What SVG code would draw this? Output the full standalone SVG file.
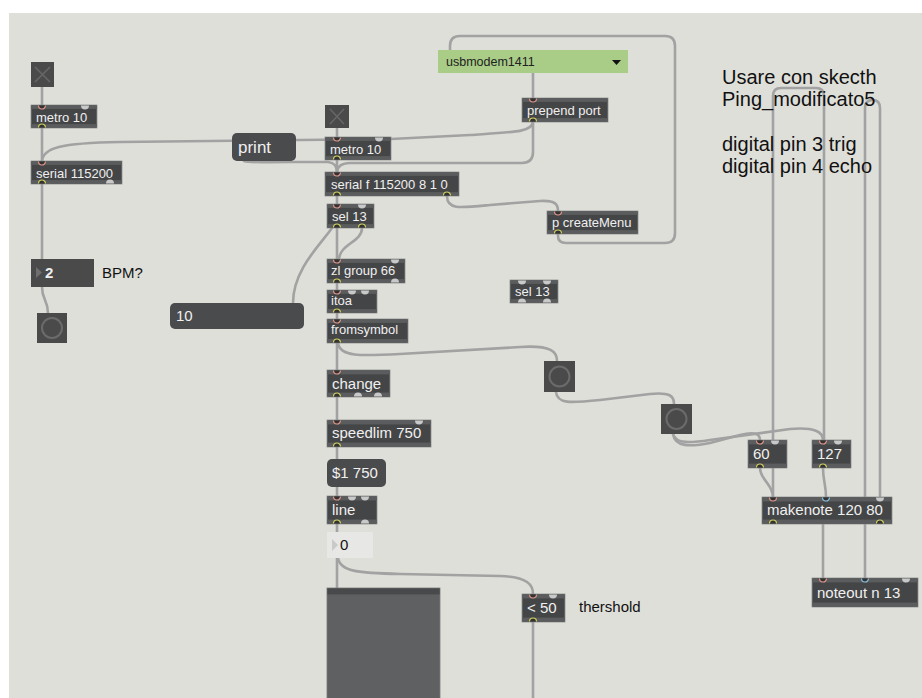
<svg xmlns="http://www.w3.org/2000/svg" width="922" height="698" viewBox="0 0 922 698">
<style>
.bg{fill:#dedfd9}
.ob{fill:#444546;stroke:#8e8f90;stroke-width:0.8}
.bd{fill:#5b5c5d}
.t{font-family:"Liberation Sans",Arial,sans-serif;font-size:13px;fill:#f0f0f0}
.tb{font-family:"Liberation Sans",Arial,sans-serif;font-size:15px;fill:#f0f0f0}
.cm{font-family:"Liberation Sans",Arial,sans-serif;font-size:15px;fill:#111}
.msg{fill:#4a4b4d}
.inr{fill:#333;stroke:#e0968a;stroke-width:1.2}
.inb{fill:#333;stroke:#86c0e0;stroke-width:1.2}
.inl{fill:#c9c9c9}
.out{fill:#333;stroke:#cfcf62;stroke-width:1.2}
.c{fill:none;stroke:#a2a2a2;stroke-width:2.6;stroke-linecap:round}
.ui{fill:#4a4a4a}
.x{stroke:#666;stroke-width:1.6}
.bt{fill:none;stroke:#6b6b6b;stroke-width:2}
</style>
<rect x="0" y="0" width="922" height="698" fill="#ffffff"/>
<rect class="bg" x="9" y="13" width="913" height="685"/>

<g id="connectors">
<path class="c" d="M42,87V105"/>
<path class="c" d="M42,128V161"/>
<path class="c" d="M533,122C532,132 515,132 470,135L391,139L120,142C60,143 43,148 42,161"/>
<path class="c" d="M533,122V152Q533,163 522,163L350,163Q338,163 337,172"/>
<path class="c" d="M337,128V137"/>
<path class="c" d="M337,160V172"/>
<path class="c" d="M244,161C250,163 260,162 290,162L328,162Q337,163 337,172"/>
<path class="c" d="M337,196V204"/>
<path class="c" d="M447,196C447,210 460,208 490,205L540,201C556,200 558,205 558,211"/>
<path class="c" d="M558,234V236Q558,243 566,243L665,243Q675,243 675,233L675,46Q675,36 665,36L460,36Q450,36 450,46V50"/>
<path class="c" d="M533,73V98"/>
<path class="c" d="M337,228V259"/>
<path class="c" d="M362,228C362,242 340,244 339,259"/>
<path class="c" d="M332,228C320,245 293,270 293,303"/>
<path class="c" d="M337,283V290"/>
<path class="c" d="M337,313V319"/>
<path class="c" d="M337,343V370"/>
<path class="c" d="M338,343C340,357 360,356 400,354L520,347C552,345 557,352 557,361"/>
<path class="c" d="M556,392C557,404 570,403 600,400L650,394C670,392 674,396 674,404"/>
<path class="c" d="M337,397V420"/>
<path class="c" d="M337,447V459"/>
<path class="c" d="M337,487V496"/>
<path class="c" d="M337,524V532"/>
<path class="c" d="M337,558V588"/>
<path class="c" d="M338,558C340,572 360,573 400,574L500,576C528,577 533,585 533,594"/>
<path class="c" d="M533,622V698"/>
<path class="c" d="M42,184V259"/>
<path class="c" d="M42,287C42,300 48,300 48,313"/>
<path class="c" d="M673,434C675,447 690,447 710,443L740,435C755,431 760,434 760,440"/>
<path class="c" d="M673,434C676,444 690,443 710,440L790,429C815,427 823,432 823,440"/>
<path class="c" d="M760,468C760,480 773,484 773,497"/>
<path class="c" d="M823,468C823,480 826,485 826,497"/>
<path class="c" d="M773,497V96Q773,88 781,88L816,88Q824,88 824,96V440"/>
<path class="c" d="M865,578V108Q865,100 872.5,100Q880,100 880,108V497"/>
<path class="c" d="M823,524V578"/>
</g>

<g id="toggle1"><rect class="ui" x="31" y="62" width="23" height="25"/><path class="x" d="M35,67L50,82M50,67L35,82"/></g>

<g id="metro1"><rect class="ob" x="31" y="105" width="66" height="23"/><rect class="bd" x="31.4" y="105.4" width="65.2" height="3.5"/><rect class="bd" x="31.4" y="124.1" width="65.2" height="3.5"/>
<path class="inr" d="M38.5,105.5A3.5,3.5 0 0 0 45.5,105.5"/><path class="inl" d="M81,105.5A4,4 0 0 0 89,105.5Z"/><path class="out" d="M38.5,127.5A3.5,3.5 0 0 1 45.5,127.5"/>
<text class="t" x="36" y="121.5">metro 10</text></g>

<g id="serial1"><rect class="ob" x="31" y="161" width="91" height="23"/><rect class="bd" x="31.4" y="161.4" width="90.2" height="3.5"/><rect class="bd" x="31.4" y="180.1" width="90.2" height="3.5"/>
<path class="inr" d="M38.5,161.5A3.5,3.5 0 0 0 45.5,161.5"/><path class="out" d="M38.5,183.5A3.5,3.5 0 0 1 45.5,183.5"/><path class="inl" d="M106,183.5A4,4 0 0 1 114,183.5Z"/>
<text class="t" x="36" y="177.5">serial 115200</text></g>

<g id="print"><rect class="msg" x="232" y="133" width="64" height="28" rx="5"/><text class="t" x="238" y="153" style="font-size:17px">print</text></g>

<g id="numbox2"><rect class="ui" x="31" y="259" width="63" height="28"/><path d="M36,267L42,272.5L36,278Z" fill="#6e6e6e"/><text class="tb" x="45" y="278" style="font-weight:bold">2</text></g>
<text class="cm" x="102" y="278">BPM?</text>

<g id="button0"><rect class="ui" x="37" y="313" width="30" height="30"/><circle class="bt" cx="52" cy="328" r="10"/></g>

<g id="msg10"><rect class="msg" x="170" y="303" width="134" height="26" rx="5"/><text class="tb" x="176" y="321">10</text></g>

<g id="toggle2"><rect class="ui" x="325" y="105" width="24" height="23"/><path class="x" d="M330,109L344,124M344,109L330,124"/></g>

<g id="metro2"><rect class="ob" x="325" y="137" width="66" height="23"/><rect class="bd" x="325.4" y="137.4" width="65.2" height="3.5"/><rect class="bd" x="325.4" y="156.1" width="65.2" height="3.5"/>
<path class="inr" d="M333.5,137.5A3.5,3.5 0 0 0 340.5,137.5"/><path class="inl" d="M375,137.5A4,4 0 0 0 383,137.5Z"/><path class="out" d="M333.5,159.5A3.5,3.5 0 0 1 340.5,159.5"/>
<text class="t" x="330" y="153.5">metro 10</text></g>

<g id="serialf"><rect class="ob" x="325" y="172" width="134" height="24"/><rect class="bd" x="325.4" y="172.4" width="133.2" height="3.5"/><rect class="bd" x="325.4" y="192.1" width="133.2" height="3.5"/>
<path class="inr" d="M333.5,172.5A3.5,3.5 0 0 0 340.5,172.5"/><path class="out" d="M333.5,195.5A3.5,3.5 0 0 1 340.5,195.5"/><path class="out" d="M443.5,195.5A3.5,3.5 0 0 1 450.5,195.5"/>
<text class="t" x="331" y="188.5">serial f 115200 8 1 0</text></g>

<g id="sel13a"><rect class="ob" x="327" y="204" width="47" height="24"/><rect class="bd" x="327.4" y="204.4" width="46.2" height="3.5"/><rect class="bd" x="327.4" y="224.1" width="46.2" height="3.5"/>
<path class="inr" d="M333.5,204.5A3.5,3.5 0 0 0 340.5,204.5"/><path class="inl" d="M358,204.5A4,4 0 0 0 366,204.5Z"/><path class="out" d="M333.5,227.5A3.5,3.5 0 0 1 340.5,227.5"/><path class="out" d="M358.5,227.5A3.5,3.5 0 0 1 365.5,227.5"/>
<text class="t" x="332" y="220.5">sel 13</text></g>

<g id="dropdown"><rect x="438" y="50" width="190" height="23" fill="#a9cd86"/><text x="446" y="66" style="font-family:'Liberation Sans',Arial,sans-serif;font-size:12.5px;fill:#222">usbmodem1411</text><path d="M612,60L621,60L616.5,65Z" fill="#111"/></g>

<g id="prepend"><rect class="ob" x="522" y="98" width="86" height="24"/><rect class="bd" x="522.4" y="98.4" width="85.2" height="3.5"/><rect class="bd" x="522.4" y="118.1" width="85.2" height="3.5"/>
<path class="inr" d="M529.5,98.5A3.5,3.5 0 0 0 536.5,98.5"/><path class="out" d="M529.5,121.5A3.5,3.5 0 0 1 536.5,121.5"/>
<text class="t" x="527" y="114.5">prepend port</text></g>

<g id="createMenu"><rect class="ob" x="547" y="211" width="91" height="23"/><rect class="bd" x="547.4" y="211.4" width="90.2" height="3.5"/><rect class="bd" x="547.4" y="230.1" width="90.2" height="3.5"/>
<path class="inr" d="M554.5,211.5A3.5,3.5 0 0 0 561.5,211.5"/><path class="out" d="M554.5,233.5A3.5,3.5 0 0 1 561.5,233.5"/>
<text class="t" x="552" y="227">p createMenu</text></g>

<g id="zlgroup"><rect class="ob" x="327" y="259" width="78" height="24"/><rect class="bd" x="327.4" y="259.4" width="77.2" height="3.5"/><rect class="bd" x="327.4" y="279.1" width="77.2" height="3.5"/>
<path class="inr" d="M333.5,259.5A3.5,3.5 0 0 0 340.5,259.5"/><path class="inl" d="M391,259.5A4,4 0 0 0 399,259.5Z"/><path class="out" d="M333.5,282.5A3.5,3.5 0 0 1 340.5,282.5"/><path class="inl" d="M391,282.5A4,4 0 0 1 399,282.5Z"/>
<text class="t" x="331" y="275">zl group 66</text></g>

<g id="itoa"><rect class="ob" x="327" y="290" width="50" height="23"/><rect class="bd" x="327.4" y="290.4" width="49.2" height="3.5"/><rect class="bd" x="327.4" y="309.1" width="49.2" height="3.5"/>
<path class="inr" d="M333.5,290.5A3.5,3.5 0 0 0 340.5,290.5"/><path class="inl" d="M348,290.5A4,4 0 0 0 356,290.5Z"/><path class="inl" d="M361,290.5A4,4 0 0 0 369,290.5Z"/><path class="out" d="M333.5,312.5A3.5,3.5 0 0 1 340.5,312.5"/>
<text class="t" x="331" y="305">itoa</text></g>

<g id="fromsymbol"><rect class="ob" x="327" y="319" width="81" height="24"/><rect class="bd" x="327.4" y="319.4" width="80.2" height="3.5"/><rect class="bd" x="327.4" y="339.1" width="80.2" height="3.5"/>
<path class="inr" d="M333.5,319.5A3.5,3.5 0 0 0 340.5,319.5"/><path class="out" d="M333.5,342.5A3.5,3.5 0 0 1 340.5,342.5"/>
<text class="t" x="331" y="334">fromsymbol</text></g>

<g id="sel13b"><rect class="ob" x="510" y="280" width="48" height="23"/><rect class="bd" x="510.4" y="280.4" width="47.2" height="3.5"/><rect class="bd" x="510.4" y="299.1" width="47.2" height="3.5"/>
<path class="inl" d="M518,280.5A4,4 0 0 0 526,280.5Z"/><path class="inl" d="M543,280.5A4,4 0 0 0 551,280.5Z"/><path class="inl" d="M518,302.5A4,4 0 0 1 526,302.5Z"/><path class="inl" d="M543,302.5A4,4 0 0 1 551,302.5Z"/>
<text class="t" x="515" y="295.5">sel 13</text></g>

<g id="change"><rect class="ob" x="327" y="370" width="63" height="27"/><rect class="bd" x="327.4" y="370.4" width="62.2" height="4"/><rect class="bd" x="327.4" y="392.6" width="62.2" height="4"/>
<path class="inr" d="M333.5,370.5A3.5,3.5 0 0 0 340.5,370.5"/><path class="out" d="M333.5,396.5A3.5,3.5 0 0 1 340.5,396.5"/><path class="inl" d="M354,396.5A4,4 0 0 1 362,396.5Z"/><path class="inl" d="M374,396.5A4,4 0 0 1 382,396.5Z"/>
<text class="tb" x="332" y="389">change</text></g>

<g id="button1"><rect class="ui" x="544" y="361" width="31" height="31"/><circle class="bt" cx="559.5" cy="376.5" r="10"/></g>
<g id="button2"><rect class="ui" x="661" y="404" width="31" height="30"/><circle class="bt" cx="676.5" cy="419" r="10"/></g>

<g id="speedlim"><rect class="ob" x="327" y="420" width="104" height="27"/><rect class="bd" x="327.4" y="420.4" width="103.2" height="4"/><rect class="bd" x="327.4" y="442.6" width="103.2" height="4"/>
<path class="inr" d="M333.5,420.5A3.5,3.5 0 0 0 340.5,420.5"/><path class="inl" d="M415,420.5A4,4 0 0 0 423,420.5Z"/><path class="out" d="M333.5,446.5A3.5,3.5 0 0 1 340.5,446.5"/>
<text class="tb" x="332" y="438">speedlim 750</text></g>

<g id="msg1750"><rect class="msg" x="327" y="459" width="59" height="28" rx="5"/><text class="tb" x="332" y="478">$1 750</text></g>

<g id="line"><rect class="ob" x="327" y="496" width="50" height="28"/><rect class="bd" x="327.4" y="496.4" width="49.2" height="4"/><rect class="bd" x="327.4" y="519.6" width="49.2" height="4"/>
<path class="inr" d="M333.5,496.5A3.5,3.5 0 0 0 340.5,496.5"/><path class="inl" d="M348,496.5A4,4 0 0 0 356,496.5Z"/><path class="inl" d="M361,496.5A4,4 0 0 0 369,496.5Z"/><path class="out" d="M333.5,523.5A3.5,3.5 0 0 1 340.5,523.5"/><path class="inl" d="M361,523.5A4,4 0 0 1 369,523.5Z"/>
<text class="tb" x="332" y="515">line</text></g>

<g id="numbox0"><rect x="327" y="532" width="46" height="26" fill="#e7e7e5"/><path d="M332,539L338,545L332,551Z" fill="#c9c9c9"/><text class="cm" x="340" y="550">0</text></g>

<g id="slider"><rect x="327" y="588" width="113" height="112" fill="#5f6062" stroke="#7a7a7a" stroke-width="0.8"/><rect x="327.4" y="588.4" width="112.2" height="6" fill="#48494b"/></g>

<g id="lt50"><rect class="ob" x="522" y="594" width="43" height="28"/><rect class="bd" x="522.4" y="594.4" width="42.2" height="4"/><rect class="bd" x="522.4" y="617.6" width="42.2" height="4"/>
<path class="inr" d="M529.5,594.5A3.5,3.5 0 0 0 536.5,594.5"/><path class="inl" d="M549,594.5A4,4 0 0 0 557,594.5Z"/><path class="out" d="M529.5,621.5A3.5,3.5 0 0 1 536.5,621.5"/>
<text class="tb" x="527" y="613">&lt; 50</text></g>
<text class="cm" x="579" y="612">thershold</text>

<g id="n60"><rect class="ob" x="748" y="440" width="39" height="28"/><rect class="bd" x="748.4" y="440.4" width="38.2" height="4"/><rect class="bd" x="748.4" y="463.6" width="38.2" height="4"/>
<path class="inr" d="M756.5,440.5A3.5,3.5 0 0 0 763.5,440.5"/><path class="inl" d="M771,440.5A4,4 0 0 0 779,440.5Z"/><path class="out" d="M756.5,467.5A3.5,3.5 0 0 1 763.5,467.5"/>
<text class="tb" x="753" y="459">60</text></g>

<g id="n127"><rect class="ob" x="812" y="440" width="39" height="28"/><rect class="bd" x="812.4" y="440.4" width="38.2" height="4"/><rect class="bd" x="812.4" y="463.6" width="38.2" height="4"/>
<path class="inr" d="M819.5,440.5A3.5,3.5 0 0 0 826.5,440.5"/><path class="inl" d="M834,440.5A4,4 0 0 0 842,440.5Z"/><path class="out" d="M819.5,467.5A3.5,3.5 0 0 1 826.5,467.5"/>
<text class="tb" x="817" y="459">127</text></g>

<g id="makenote"><rect class="ob" x="762" y="497" width="130" height="27"/><rect class="bd" x="762.4" y="497.4" width="129.2" height="4"/><rect class="bd" x="762.4" y="519.6" width="129.2" height="4"/>
<path class="inr" d="M769.5,497.5A3.5,3.5 0 0 0 776.5,497.5"/><path class="inb" d="M822.5,497.5A3.5,3.5 0 0 0 829.5,497.5"/><path class="inl" d="M876,497.5A4,4 0 0 0 884,497.5Z"/><path class="out" d="M769.5,523.5A3.5,3.5 0 0 1 776.5,523.5"/><path class="out" d="M876.5,523.5A3.5,3.5 0 0 1 883.5,523.5"/>
<text class="tb" x="767" y="515">makenote 120 80</text></g>

<g id="noteout"><rect class="ob" x="812" y="578" width="106" height="29"/><rect class="bd" x="812.4" y="578.4" width="105.2" height="4"/><rect class="bd" x="812.4" y="602.6" width="105.2" height="4"/>
<path class="inr" d="M819.5,578.5A3.5,3.5 0 0 0 826.5,578.5"/><path class="inb" d="M861.5,578.5A3.5,3.5 0 0 0 868.5,578.5"/><path class="inl" d="M902,578.5A4,4 0 0 0 910,578.5Z"/>
<text class="tb" x="817" y="598">noteout n 13</text></g>

<g id="comment" style="font-family:'Liberation Sans',Arial,sans-serif;font-size:20px;fill:#111">
<text x="722" y="84">Usare con skecth</text>
<text x="722" y="106">Ping_modificato5</text>
<text x="722" y="151">digital pin 3 trig</text>
<text x="722" y="173">digital pin 4 echo</text>
</g>
</svg>
